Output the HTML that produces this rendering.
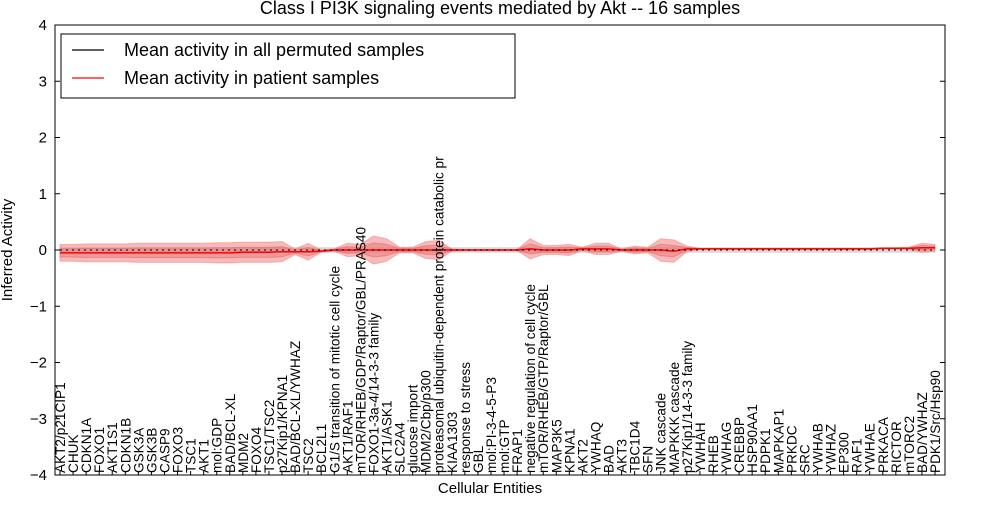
<!DOCTYPE html>
<html><head><meta charset="utf-8"><style>
body{margin:0;background:#fff}
text{font-family:"Liberation Sans","DejaVu Sans",sans-serif}
</style></head><body>
<svg id="chart" width="1000" height="500" xmlns="http://www.w3.org/2000/svg">
<rect width="1000" height="500" fill="#fff"/>
<text x="500" y="14" font-size="18" text-anchor="middle">Class I PI3K signaling events mediated by Akt -- 16 samples</text>
<g id="plot"></g>
<text x="490" y="493" font-size="15" text-anchor="middle">Cellular Entities</text>
<text transform="translate(12,250) rotate(-90)" font-size="15" text-anchor="middle">Inferred Activity</text>
</svg>
<script>
const categories=["AKT2/p21CIP1","CHUK","CDKN1A","FOXO1","AKT1S1","CDKN1B","GSK3A","GSK3B","CASP9","FOXO3","TSC1","AKT1","mol:GDP","BAD/BCL-XL","MDM2","FOXO4","TSC1/TSC2","p27Kip1/KPNA1","BAD/BCL-XL/YWHAZ","TSC2","BCL2L1","G1/S transition of mitotic cell cycle","AKT1/RAF1","mTOR/RHEB/GDP/Raptor/GBL/PRAS40","FOXO1-3a-4/14-3-3 family","AKT1/ASK1","SLC2A4","glucose import","MDM2/Cbp/p300","proteasomal ubiquitin-dependent protein catabolic pr","KIAA1303","response to stress","GBL","mol:PI-3-4-5-P3","mol:GTP","FRAP1","negative regulation of cell cycle","mTOR/RHEB/GTP/Raptor/GBL","MAP3K5","KPNA1","AKT2","YWHAQ","BAD","AKT3","TBC1D4","SFN","JNK cascade","MAPKKK cascade","p27Kip1/14-3-3 family","YWHAH","RHEB","YWHAG","CREBBP","HSP90AA1","PDPK1","MAPKAP1","PRKDC","SRC","YWHAB","YWHAZ","EP300","RAF1","YWHAE","PRKACA","RICTOR","mTORC2","BAD/YWHAZ","PDK1/Src/Hsp90"];
const meanPatient=[-0.05,-0.05,-0.05,-0.05,-0.05,-0.05,-0.05,-0.05,-0.05,-0.05,-0.05,-0.05,-0.05,-0.05,-0.04,-0.04,-0.04,-0.03,-0.03,-0.03,-0.02,0,0,0,0,0,0,0,0,0,0,0,0,0,0,0,0.02,0,0,0,0.02,0.02,0.02,0,0,0,0,-0.02,0.02,0.02,0.02,0.02,0.02,0.02,0.02,0.02,0.02,0.02,0.02,0.02,0.02,0.02,0.02,0.03,0.03,0.03,0.04,0.04];
const spread=[0.15,0.15,0.16,0.16,0.16,0.16,0.17,0.17,0.17,0.17,0.17,0.17,0.18,0.18,0.18,0.18,0.18,0.18,0.05,0.15,0.02,0.02,0.12,0.1,0.25,0.2,0.05,0.05,0.15,0.17,0.02,0.01,0.01,0.01,0.01,0.01,0.18,0.08,0.08,0.1,0.03,0.1,0.1,0.02,0.07,0.05,0.2,0.2,0.05,0.01,0.01,0.01,0.01,0.01,0.01,0.01,0.01,0.01,0.01,0.01,0.01,0.01,0.01,0.01,0.01,0.02,0.08,0.06];
const meanPermuted=new Array(categories.length).fill(0);
const yTicks=[-4,-3,-2,-1,0,1,2,3,4];
const NS="http://www.w3.org/2000/svg";
const L=55,R=945,T=25,B=475;
const x=i=>60+i*(935-60)/(categories.length-1);
const y=v=>T+(4-v)*(B-T)/8;
const g=document.getElementById('plot');
function mk(t,a){const e=document.createElementNS(NS,t);for(const k in a)e.setAttribute(k,a[k]);g.appendChild(e);return e;}
function band(lo,hi,fill,op,name){let p="";for(let i=0;i<categories.length;i++)p+=(i?"L":"M")+x(i)+","+y(hi(i));for(let i=categories.length-1;i>=0;i--)p+="L"+x(i)+","+y(lo(i));
const e=mk('path',{d:p+"Z",fill:fill,'fill-opacity':op,stroke:fill,'stroke-opacity':0.5});

}
band(i=>meanPermuted[i]-0.04,i=>meanPermuted[i]+0.04,'#bbbbbb',0.5,'permuted-band');
band(i=>meanPatient[i]-spread[i],i=>meanPatient[i]+spread[i],'#f08080',0.55,'patient-outer-band');
band(i=>meanPatient[i]-spread[i]/2,i=>meanPatient[i]+spread[i]/2,'#e06060',0.35,'patient-inner-band');
function line(arr,col,w,dash,name){const e=mk('polyline',{points:arr.map((v,i)=>x(i)+","+y(v)).join(" "),fill:'none',stroke:col,'stroke-width':w});if(dash)e.setAttribute('stroke-dasharray',dash);

}
line(meanPatient,'#ff0000',1.5,null,'patient-mean-line');
line(meanPermuted,'#000',1,'2,4','permuted-mean-line');
const fr=mk('rect',{x:L,y:T,width:R-L,height:B-T,fill:'none',stroke:'#000'});


yTicks.forEach(v=>{
 mk('line',{x1:L,x2:L+5,y1:y(v),y2:y(v),stroke:'#000'});mk('line',{x1:R-5,x2:R,y1:y(v),y2:y(v),stroke:'#000'});
 const t=mk('text',{x:L-8,y:y(v)+5,'font-size':15,'text-anchor':'end'});t.textContent=(v<0?"\u2212":"")+Math.abs(v);
 
 
});
categories.forEach((c,i)=>{
 mk('line',{x1:x(i),x2:x(i),y1:B,y2:B-4,stroke:'#000'});
 const t=mk('text',{transform:`translate(${x(i)+5},${B-2}) rotate(-90)`,'font-size':13.6});t.textContent=c;
 
 
});
const lr=mk('rect',{x:61,y:34,width:454,height:64,fill:'#fff',stroke:'#000'});


[['#000','Mean activity in all permuted samples',50],['#ff0000','Mean activity in patient samples',78]].forEach(([c,s,yy])=>{
 mk('line',{x1:72,x2:104,y1:yy,y2:yy,stroke:c,'stroke-width':1.2});
 const t=mk('text',{x:124,y:yy+6,'font-size':18});t.textContent=s;
 
 
});
</script>
</body></html>
